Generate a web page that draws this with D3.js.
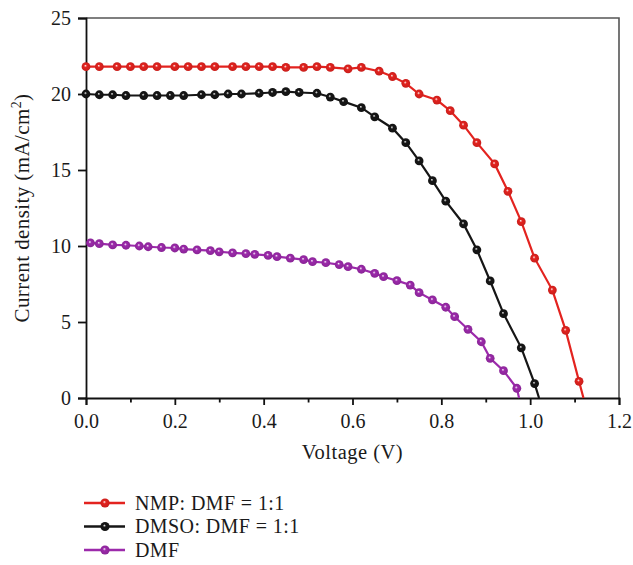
<!DOCTYPE html>
<html>
<head>
<meta charset="utf-8">
<script src="https://cdn.jsdelivr.net/npm/d3@7/dist/d3.min.js"></script>
<style>
  html, body { margin: 0; padding: 0; background: #fff; }
  svg { display: block; }
  text { font-family: "Liberation Serif", "DejaVu Serif", serif; fill: #1a1a1a; }
</style>
</head>
<body>
<svg id="chart" width="633" height="565"></svg>
<script>
// J–V curves of perovskite devices prepared from different solvent systems
const seriesNames = ["NMP: DMF = 1:1", "DMSO: DMF = 1:1", "DMF"];
const seriesColors = ["#e3231f", "#161616", "#9c2aab"];

const voltNMP = [0.00,0.03,0.07,0.10,0.13,0.16,0.20,0.23,0.26,0.29,0.33,0.36,0.39,0.42,0.45,0.49,0.52,0.55,0.59,0.62,0.66,0.69,0.72,0.75,0.79,0.82,0.85,0.88,0.92,0.95,0.98,1.01,1.05,1.08,1.11];
const currNMP = [21.8,21.8,21.8,21.8,21.8,21.8,21.8,21.8,21.8,21.8,21.8,21.8,21.8,21.8,21.75,21.75,21.8,21.75,21.65,21.75,21.5,21.15,20.7,20.0,19.6,18.9,17.95,16.8,15.4,13.6,11.6,9.2,7.1,4.45,1.1];

const voltDMSO = [0.00,0.03,0.06,0.09,0.13,0.16,0.19,0.22,0.26,0.29,0.32,0.35,0.39,0.42,0.45,0.48,0.52,0.55,0.58,0.62,0.65,0.69,0.72,0.75,0.78,0.81,0.85,0.88,0.91,0.94,0.98,1.01];
const currDMSO = [20.0,19.95,19.95,19.9,19.9,19.9,19.9,19.9,19.95,19.95,20.0,20.0,20.05,20.1,20.15,20.1,20.05,19.8,19.5,19.1,18.5,17.75,16.8,15.6,14.3,12.95,11.45,9.75,7.7,5.55,3.3,0.95];

const voltDMF = [0.01,0.03,0.06,0.09,0.12,0.14,0.17,0.20,0.22,0.25,0.28,0.30,0.33,0.36,0.38,0.41,0.43,0.46,0.49,0.51,0.54,0.57,0.59,0.62,0.65,0.67,0.70,0.73,0.75,0.78,0.81,0.83,0.86,0.89,0.91,0.94,0.97];
const currDMF = [10.2,10.15,10.07,10.05,10.0,9.95,9.9,9.87,9.8,9.74,9.69,9.62,9.55,9.5,9.45,9.38,9.3,9.2,9.1,8.97,8.9,8.78,8.64,8.47,8.2,7.98,7.72,7.43,6.93,6.45,5.97,5.35,4.52,3.7,2.61,1.8,0.64];

// open-circuit voltages where each curve meets J = 0
const vocValues = [1.12, 1.02, 0.975];

const xTicks = [0.0, 0.2, 0.4, 0.6, 0.8, 1.0, 1.2];
const xMinorTicks = [0.1, 0.3, 0.5, 0.7, 0.9, 1.1];
const yTicks = [0, 5, 10, 15, 20, 25];

const svg = d3.select("#chart");
const plotLeft = 86, plotRight = 619, plotTop = 18, plotBottom = 398;

const x = d3.scaleLinear().domain([0, 1.2]).range([plotLeft, plotRight]);
const y = d3.scaleLinear().domain([0, 25]).range([plotBottom, plotTop]);

// sphere-like marker fills
const defs = svg.append("defs");
seriesColors.forEach((c, i) => {
  const g = defs.append("radialGradient").attr("id", "ball" + i)
    .attr("cx", "50%").attr("cy", "50%").attr("r", "55%")
    .attr("fx", "42%").attr("fy", "38%");
  g.append("stop").attr("offset", "0%").attr("stop-color", "#ffffff").attr("stop-opacity", 0.95);
  g.append("stop").attr("offset", "30%").attr("stop-color", c);
  g.append("stop").attr("offset", "100%").attr("stop-color", d3.color(c).darker(0.4));
});

// frame: top and right edges
svg.append("path")
  .attr("d", `M${plotLeft},${plotTop}H${plotRight}V${plotBottom}`)
  .attr("fill", "none").attr("stroke", "#555").attr("stroke-width", 1.6);

// x axis
const xAxis = svg.append("g").attr("transform", `translate(0,${plotBottom})`)
  .call(d3.axisBottom(x).tickValues(xTicks).tickSize(7).tickPadding(9).tickFormat(d3.format(".1f")));
svg.append("g").attr("transform", `translate(0,${plotBottom})`)
  .call(d3.axisBottom(x).tickValues(xMinorTicks).tickSize(4.5).tickFormat(""))
  .call(g => g.select(".domain").remove());

// y axis
const yAxis = svg.append("g").attr("transform", `translate(${plotLeft},0)`)
  .call(d3.axisLeft(y).tickValues(yTicks).tickSize(8).tickPadding(7).tickFormat(d3.format("d")));

svg.selectAll(".tick line").attr("stroke", "#111").attr("stroke-width", 1.8);
svg.selectAll(".domain").attr("stroke", "#111").attr("stroke-width", 1.8);
svg.selectAll(".tick text").attr("font-family", "Liberation Serif").attr("font-size", 20).attr("fill", "#1a1a1a");
xAxis.selectAll(".tick text").attr("dy", "0.68em");

// axis titles
svg.append("text")
  .attr("x", (plotLeft + plotRight) / 2).attr("y", 459)
  .attr("text-anchor", "middle").attr("font-size", 20.5)
  .attr("letter-spacing", 0.5)
  .text("Voltage (V)");

const yTitle = svg.append("text")
  .attr("transform", `translate(29,${(plotTop + plotBottom) / 2}) rotate(-90)`)
  .attr("text-anchor", "middle").attr("font-size", 21)
  .attr("letter-spacing", 0.4);
yTitle.append("tspan").text("Current density (mA/cm");
yTitle.append("tspan").attr("font-size", 14).attr("dy", -8).text("2");
yTitle.append("tspan").attr("dy", 8).text(")");

// curves
const series = [
  { volt: voltNMP, curr: currNMP },
  { volt: voltDMSO, curr: currDMSO },
  { volt: voltDMF, curr: currDMF }
];

const line = d3.line().x(d => x(d[0])).y(d => y(d[1]));

series.forEach((s, i) => {
  const pts = s.volt.map((v, k) => [v, s.curr[k]]);
  const linePts = pts.concat([[vocValues[i], 0]]);
  const g = svg.append("g");
  g.append("path").datum(linePts)
    .attr("d", line)
    .attr("fill", "none")
    .attr("stroke", seriesColors[i])
    .attr("stroke-width", 2.2);
  g.selectAll("circle").data(pts).join("circle")
    .attr("cx", d => x(d[0])).attr("cy", d => y(d[1]))
    .attr("r", 4.4)
    .attr("fill", `url(#ball${i})`);
});

// legend
const legend = svg.append("g");
seriesNames.forEach((name, i) => {
  const ly = 503 + i * 23.5;
  legend.append("line")
    .attr("x1", 84).attr("x2", 125).attr("y1", ly).attr("y2", ly)
    .attr("stroke", seriesColors[i]).attr("stroke-width", 2.6);
  legend.append("circle")
    .attr("cx", 105).attr("cy", ly).attr("r", 4.6)
    .attr("fill", `url(#ball${i})`);
  legend.append("text")
    .attr("x", 135).attr("y", ly + 6.5)
    .attr("font-size", 20)
    .attr("letter-spacing", 0.4)
    .text(name);
});
</script>
</body>
</html>
